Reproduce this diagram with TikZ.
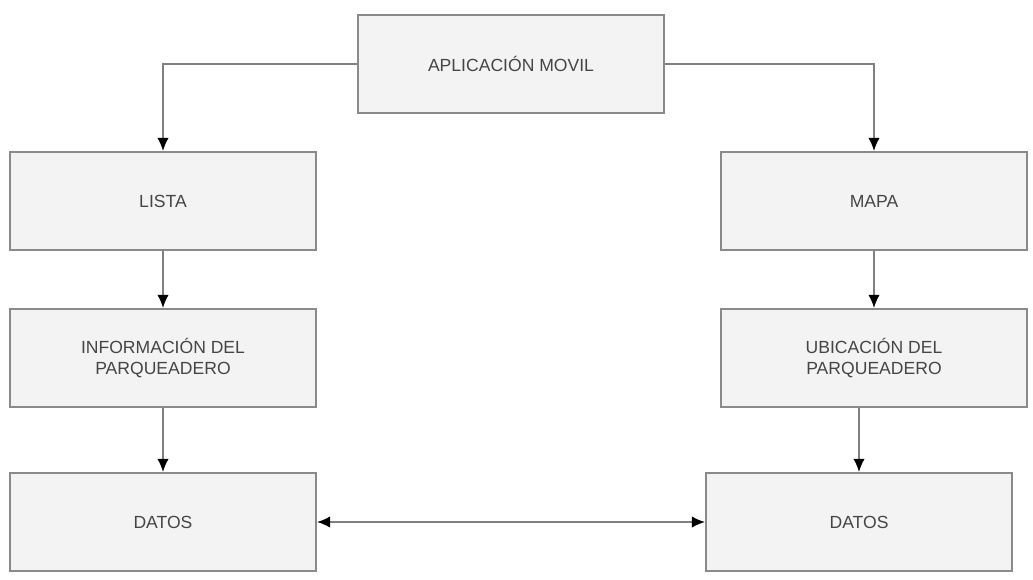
\documentclass[tikz,border=0pt]{standalone}
\usepackage{fontspec}
\setmainfont{Liberation Sans}
\usepackage{tikz}
\usetikzlibrary{arrows,arrows.meta,positioning}

\definecolor{borde}{HTML}{8A8A8A}
\definecolor{relleno}{HTML}{F3F3F3}
\definecolor{texto}{HTML}{454545}
\definecolor{linea}{HTML}{808080}

\tikzset{
  caja/.style={draw=borde,line width=1.1pt,fill=relleno,minimum width=6.12cm,
    minimum height=1.96cm,align=center,text=texto,font=\fontsize{10}{11.5}\selectfont},
  punta/.tip={Latex[length=7.5pt,width=6.5pt,black]},
  flecha/.style={draw=linea,line width=1pt,-punta}
}

\begin{document}
\begin{tikzpicture}[x=0.02cm,y=-0.02cm]
	  \useasboundingbox (0,0) rectangle (1033,579);
	  % Draw the boxes
	  \node[caja] (app) at (511,64) {APLICACIÓN MOVIL};
	  \node[caja] (lista) at (163,201) {LISTA};
	  \node[caja] (mapa) at (874,201) {MAPA};
	  \node[caja] (info) at (163,358) {INFORMACIÓN DEL\\PARQUEADERO};
	  \node[caja] (ubic) at (874,358) {UBICACIÓN DEL\\PARQUEADERO};
	  \node[caja] (datosA) at (163,522) {DATOS};
	  \node[caja] (datosB) at (859,522) {DATOS};
	  % Draw the connections
	  \draw[flecha] (app.west) -| (lista.north);
	  \draw[flecha] (app.east) -| (mapa.north);
	  \draw[flecha] (lista) -- (info);
	  \draw[flecha] (mapa) -- (ubic);
	  \draw[flecha] (info) -- (datosA);
	  \draw[flecha] (datosB.north |- ubic.south) -- (datosB.north);
	  \draw[flecha,punta-punta] (datosA) -- (datosB);
      \end{tikzpicture}
\end{document}
